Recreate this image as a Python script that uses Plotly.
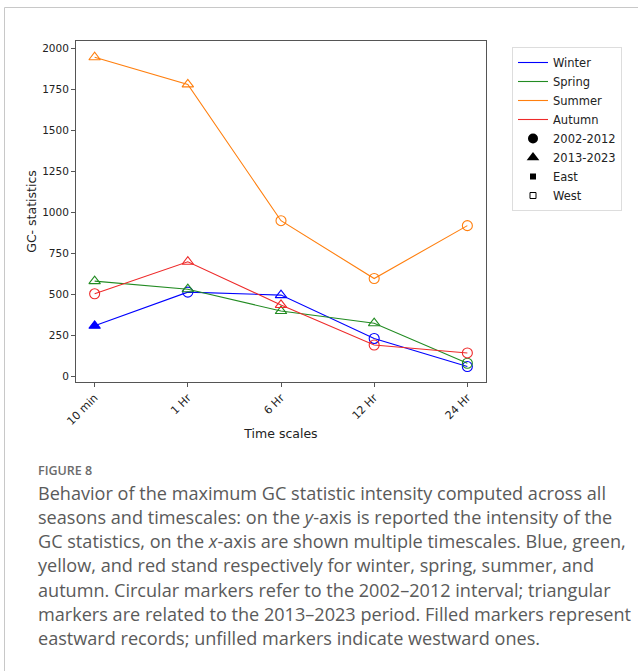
import plotly.graph_objects as go

# ---------------- data ----------------
timescales = ["10 min", "1 Hr", "6 Hr", "12 Hr", "24 Hr"]

winter = [310, 515, 497, 233, 62]
winter_period = ["2013-2023", "2002-2012", "2013-2023", "2002-2012", "2002-2012"]
winter_dir = ["East", "West", "West", "West", "West"]

spring = [582, 533, 400, 326, 82]
spring_period = ["2013-2023", "2013-2023", "2013-2023", "2013-2023", "2002-2012"]
spring_dir = ["West", "West", "West", "West", "West"]

summer = [1945, 1780, 950, 598, 920]
summer_period = ["2013-2023", "2013-2023", "2002-2012", "2002-2012", "2002-2012"]
summer_dir = ["West", "West", "West", "West", "West"]

autumn = [505, 700, 437, 193, 145]
autumn_period = ["2002-2012", "2013-2023", "2013-2023", "2002-2012", "2002-2012"]
autumn_dir = ["West", "West", "West", "West", "West"]

seasons = ["Winter", "Spring", "Summer", "Autumn"]
colors = ["#0000ff", "#228b22", "#ff7f0e", "#ee2a2a"]
y_ticks = [0, 250, 500, 750, 1000, 1250, 1500, 1750, 2000]

caption_title = "FIGURE 8"
caption_lines = [
    "Behavior of the maximum GC statistic intensity computed across all",
    "seasons and timescales: on the <i>y</i>-axis is reported the intensity of the",
    "GC statistics, on the <i>x</i>-axis are shown multiple timescales. Blue, green,",
    "yellow, and red stand respectively for winter, spring, summer, and",
    "autumn. Circular markers refer to the 2002\u20132012 interval; triangular",
    "markers are related to the 2013\u20132023 period. Filled markers represent",
    "eastward records; unfilled markers indicate westward ones.",
]

# ---------------- layout geometry ----------------
W, H = 638, 671
L, R, T, B = 76, 486, 41, 382
pw, ph = R - L, B - T


def px(x):
    return (x - L) / pw


def py(y):
    return 1 - (y - T) / ph


def symbol(period, direction):
    base = "circle" if period == "2002-2012" else "triangle-up"
    return base if direction == "East" else base + "-open"


series = [
    (winter, winter_period, winter_dir),
    (spring, spring_period, spring_dir),
    (summer, summer_period, summer_dir),
    (autumn, autumn_period, autumn_dir),
]

fig = go.Figure()
xi = list(range(len(timescales)))

for (vals, per, dr), name, c in zip(series, seasons, colors):
    fig.add_trace(go.Scatter(
        x=xi, y=vals, mode="lines+markers", showlegend=False,
        line=dict(color=c, width=1.1),
        marker=dict(symbol=[symbol(p, d) for p, d in zip(per, dr)],
                    size=10, color=c, line=dict(color=c, width=1.1)),
    ))

# legend entries
for name, c in zip(seasons, colors):
    fig.add_trace(go.Scatter(x=[None], y=[None], mode="lines", name=name,
                             line=dict(color=c, width=1.1)))
fig.add_trace(go.Scatter(x=[None], y=[None], mode="markers", name="2002-2012",
                         marker=dict(symbol="circle", size=10, color="black")))
fig.add_trace(go.Scatter(x=[None], y=[None], mode="markers", name="2013-2023",
                         marker=dict(symbol="triangle-up", size=11, color="black")))
fig.add_trace(go.Scatter(x=[None], y=[None], mode="markers", name="East",
                         marker=dict(symbol="square", size=6, color="black")))
fig.add_trace(go.Scatter(x=[None], y=[None], mode="markers", name="West",
                         marker=dict(symbol="square-open", size=6, color="black",
                                     line=dict(color="black", width=1))))

axis_font = dict(family="DejaVu Sans", size=10.5, color="#222")

fig.update_layout(
    width=W, height=H,
    margin=dict(l=L, r=W - R, t=T, b=H - B, autoexpand=False),
    paper_bgcolor="white", plot_bgcolor="white",
    font=dict(family="DejaVu Sans", color="#222"),
    xaxis=dict(
        range=[-0.2, 4.2], tickmode="array", tickvals=xi, ticktext=timescales,
        tickangle=-45, tickfont=dict(family="DejaVu Sans", size=11, color="#222"),
        showgrid=False, zeroline=False,
        showline=True, mirror=True, linecolor="#555", linewidth=1,
        ticks="outside", ticklen=4, tickcolor="#555",
        title=dict(text="Time scales", font=dict(family="DejaVu Sans", size=12.5, color="#222"),
                   standoff=2),
    ),
    yaxis=dict(
        range=[-32, 2044], tickmode="array", tickvals=y_ticks,
        tickfont=axis_font, showgrid=False, zeroline=False,
        showline=True, mirror=True, linecolor="#555", linewidth=1,
        ticks="outside", ticklen=4, tickcolor="#555",
        title=dict(text="GC- statistics", font=dict(family="DejaVu Sans", size=12.5, color="#222"),
                   standoff=2),
    ),
    legend=dict(
        x=px(512), y=py(47), xanchor="left", yanchor="top",
        bgcolor="white", bordercolor="#dddddd", borderwidth=1,
        font=dict(family="DejaVu Sans", size=11.5, color="#222"),
        tracegroupgap=0, itemwidth=30,
        entrywidth=72, entrywidthmode="pixels",
    ),
)

# frame lines of the figure panel
fig.add_shape(type="line", xref="paper", yref="paper",
              x0=px(4.5), x1=px(W), y0=py(7.5), y1=py(7.5),
              line=dict(color="#c8c8c8", width=1))
fig.add_shape(type="line", xref="paper", yref="paper",
              x0=px(4.5), x1=px(4.5), y0=py(7.5), y1=py(H),
              line=dict(color="#c8c8c8", width=1))

# caption
fig.add_annotation(text=caption_title, xref="paper", yref="paper",
                   x=px(35.5), y=py(470), xanchor="left", yanchor="middle",
                   showarrow=False,
                   font=dict(family="Open Sans", size=12.5, weight=600, color="#6b6b6b"))
line_y = [492.5, 516.8, 541.1, 565.4, 589.7, 614.0, 638.3]
for txt, yy in zip(caption_lines, line_y):
    fig.add_annotation(text=txt, xref="paper", yref="paper",
                       x=px(35.5), y=py(yy), xanchor="left", yanchor="middle",
                       showarrow=False,
                       font=dict(family="Open Sans", size=18.1, color="#5a5a5a"))

fig.write_html("out.html")
